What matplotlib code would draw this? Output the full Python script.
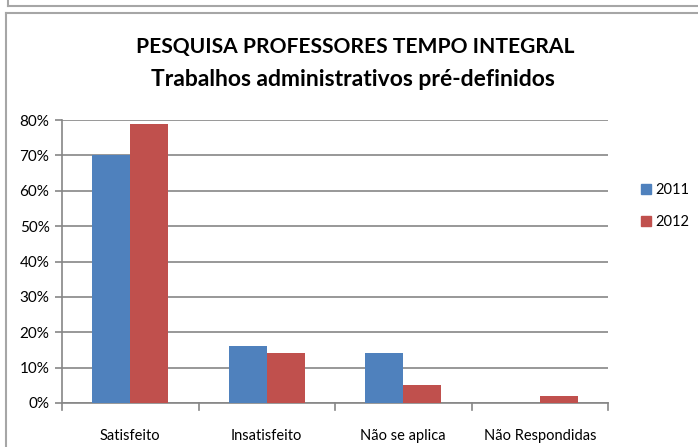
import matplotlib
matplotlib.use("Agg")
import matplotlib.pyplot as plt
from matplotlib.patches import Patch
from matplotlib.lines import Line2D
import numpy as np

categories = ["Satisfeito", "Insatisfeito", "Não se aplica", "Não Respondidas"]
series_names = ["2011", "2012"]
values_2011 = [70, 16, 14, 0]
values_2012 = [79, 14, 5, 2]
yticks = [0, 10, 20, 30, 40, 50, 60, 70, 80]
title_line1 = "PESQUISA PROFESSORES TEMPO INTEGRAL"
title_line2 = "Trabalhos administrativos pré-definidos"

plt.rcParams['font.family'] = ['Lato', 'DejaVu Sans']

fig = plt.figure(figsize=(6.98, 4.47), dpi=100)
fig.patch.set_facecolor("white")

# frames
fig.add_artist(Line2D([8/698, 1.01], [1-6/447, 1-6/447], color="#a6a6a6", lw=1.5, transform=fig.transFigure))
fig.add_artist(Line2D([8/698, 8/698], [1.01, 1-6/447], color="#a6a6a6", lw=1.5, transform=fig.transFigure))
fig.add_artist(Line2D([6/698, 1.01], [1-13/447, 1-13/447], color="#a6a6a6", lw=1.5, transform=fig.transFigure))
fig.add_artist(Line2D([6/698, 6/698], [1-13/447, -0.01], color="#a6a6a6", lw=1.5, transform=fig.transFigure))

ax = fig.add_axes([62/698, 1-403/447, (608-62)/698, (403-120)/447])
x = np.arange(len(categories))
w = 0.28
ax.bar(x - w/2, values_2011, w, color="#4F81BD", label=series_names[0], zorder=3)
ax.bar(x + w/2, values_2012, w, color="#C0504D", label=series_names[1], zorder=3)

ax.set_xlim(-0.5, len(categories) - 0.5)
ax.set_ylim(0, 80)
ax.set_yticks(yticks)
ax.set_yticklabels([f"{v}%" for v in yticks], fontsize=11)
ax.yaxis.grid(True, color="#868686", lw=1.2, zorder=0)
ax.set_xticks(x)
ax.set_xticklabels(categories, fontsize=10.5)
ax.tick_params(axis="x", length=0, pad=19)
ax.tick_params(axis="y", length=5, color="#868686", width=1.2, pad=4)
for b in np.arange(-0.5, len(categories), 1.0):
    ax.plot([b, b], [0, -2], color="#868686", lw=1.2, clip_on=False, zorder=4)
for s in ["top", "right"]:
    ax.spines[s].set_visible(False)
for s in ["left", "bottom"]:
    ax.spines[s].set_color("#868686")
    ax.spines[s].set_linewidth(1.2)

fig.text(355/698, 1-47/447, title_line1, ha="center", va="center", fontsize=15.1, fontweight="bold")
fig.text(353/698, 1-80/447, title_line2, ha="center", va="center", fontsize=16.5, fontweight="bold")

handles = [Patch(color="#4F81BD"), Patch(color="#C0504D")]
fig.legend(handles, series_names, loc="center left", bbox_to_anchor=(641/698, 1-206/447),
           frameon=False, fontsize=10.5, handlelength=0.7, handleheight=0.7, handletextpad=0.25,
           labelspacing=1.25, borderpad=0, borderaxespad=0)

fig.savefig("out.png", dpi=100)
